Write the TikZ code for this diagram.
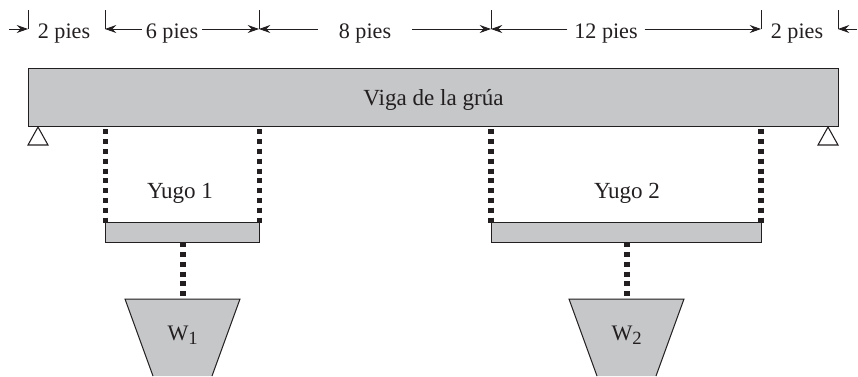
\documentclass[tikz,border=0pt]{standalone}
\usepackage{fontspec}
\setmainfont{Liberation Serif}
\usetikzlibrary{arrows.meta}

\definecolor{vigagray}{HTML}{C6C7C9}
\definecolor{inkgray}{HTML}{231F20}

\tikzset{
  lbl/.style={anchor=base, inner ysep=0pt, inner xsep=3pt, text=inkgray},
  lblgrande/.style={lbl, font=\fontsize{17.3}{20}\selectfont},
  barra/.style={draw=inkgray, fill=vigagray, line width=0.75pt, outer sep=0pt, inner sep=0pt},
  cota/.style={-{Stealth[length=8.5pt,width=6pt,inset=3pt]}, draw=inkgray, line width=0.6pt},
  tope/.style={draw=inkgray, line width=0.7pt},
  cadena/.style={draw=inkgray, line width=3.8pt, dash pattern=on 3.75pt off 3.6pt},
  apoyo/.style={draw=inkgray, line width=0.8pt, fill=white}
}

\begin{document}
\begin{tikzpicture}[x=0.75pt,y=-0.75pt,font=\fontsize{16.6}{19}\selectfont]
    \useasboundingbox (0,0) rectangle (858,376);

    % topes de las cotas
    \coordinate (t0) at (28,29);
    \coordinate (t1) at (105,29);
    \coordinate (t2) at (259,29);
    \coordinate (t3) at (491,29);
    \coordinate (t4) at (761,29);
    \coordinate (t5) at (838,29);
    \coordinate (entra) at (9,29);
    \coordinate (sale) at (857,29);
    \draw[tope] (t0) -- ++(0,-19);
    \draw[tope] (t1) -- ++(0,-19);
    \draw[tope] (t2) -- ++(0,-19);
    \draw[tope] (t3) -- ++(0,-19);
    \draw[tope] (t4) -- ++(0,-19);
    \draw[tope] (t5) -- ++(0,-19);

    % textos de las cotas
    \node[lbl] (pies2a) at (64,38) {2 pies};
    \node[lbl] (pies6) at (172,38) {6 pies};
    \node[lbl, inner xsep=15.5pt] (pies8) at (365,38) {8 pies};
    \node[lbl, inner xsep=5pt] (pies12) at (606,38) {12 pies};
    \node[lbl] (pies2b) at (797,38) {2 pies};

    % flechas de las cotas
    \draw[cota] (entra) -- (t0);
    \draw[cota] (pies6.west |- t1) -- (t1);
    \draw[cota] (pies6.east |- t2) -- (t2);
    \draw[cota] (pies8.west |- t2) -- (t2);
    \draw[cota] (pies8.east |- t3) -- (t3);
    \draw[cota] (pies12.west |- t3) -- (t3);
    \draw[cota] (pies12.east |- t4) -- (t4);
    \draw[cota] (sale) -- (t5);

    % viga
    \node[barra, minimum width=607.5pt, minimum height=43.5pt] (viga) at (433,97) {};
    \node[lblgrande] (txtviga) at (433.5,105) {Viga de la grúa};

    % apoyos
    \coordinate (apoyo1) at (38,127);
    \coordinate (apoyo2) at (828,127);
    \draw[apoyo] (apoyo1) -- ++(-10,18) -- ++(20,0) -- cycle;
    \draw[apoyo] (apoyo2) -- ++(-10,18) -- ++(20,0) -- cycle;

    % yugos
    \node[barra, minimum width=116pt, minimum height=14.5pt] (yugo1) at (182.5,232.5) {};
    \node[barra, minimum width=202.5pt, minimum height=14.5pt] (yugo2) at (626,232.5) {};
    \node[lblgrande] (txt1) at (180,198) {Yugo 1};
    \node[lblgrande] (txt2) at (627,198) {Yugo 2};

    % cadenas de los yugos
    \draw[cadena, shorten <=2.5pt] (yugo1.north west |- viga.south) -- (yugo1.north west);
    \draw[cadena, shorten <=2.5pt] (yugo1.north east |- viga.south) -- (yugo1.north east);
    \draw[cadena, shorten <=2.5pt] (yugo2.north west |- viga.south) -- (yugo2.north west);
    \draw[cadena, shorten <=2.5pt] (yugo2.north east |- viga.south) -- (yugo2.north east);

    % pesos
    \coordinate (w1) at (183,299);
    \coordinate (w2) at (627,299);
    \draw[barra] (153,376) -- (125,299) -- (240,299) -- (212,376);
    \draw[barra] (597,376) -- (569,299) -- (684,299) -- (656,376);
    \node[lbl] (peso1) at (183,340) {W\textsubscript{\fontsize{14}{14}\selectfont 1}};
    \node[lbl] (peso2) at (627,340) {W\textsubscript{\fontsize{14}{14}\selectfont 2}};

    % cadenas de los pesos
    \draw[cadena, shorten >=2.2pt] (yugo1.south -| w1) -- (w1);
    \draw[cadena, shorten >=2.2pt] (yugo2.south -| w2) -- (w2);
\end{tikzpicture}
\end{document}
